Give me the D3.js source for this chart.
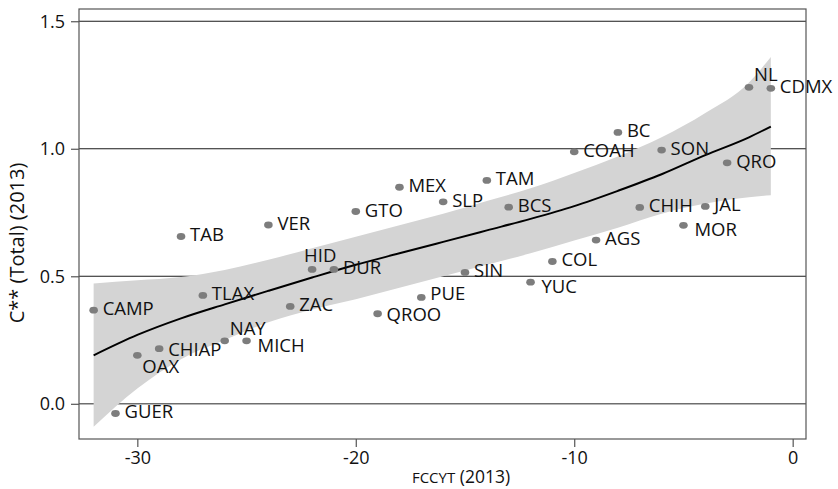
<!DOCTYPE html>
<html>
<head>
<meta charset="utf-8">
<script src="https://cdn.jsdelivr.net/npm/d3@7"></script>
<style>
  html, body { margin: 0; padding: 0; background: #fff; }
  svg { display: block; }
  text { font-family: "Open Sans", "Noto Sans", sans-serif; fill: #111; }
</style>
</head>
<body>
<svg id="chart" width="838" height="489"></svg>
<script>
// ---- data ----
const states = ["AGS","BC","BCS","CAMP","COAH","COL","CHIAP","CHIH","CDMX","DUR","GTO","GUER","HID","JAL","MEX","MICH","MOR","NAY","NL","OAX","PUE","QRO","QROO","SLP","SIN","SON","TAB","TAM","TLAX","VER","YUC","ZAC"];
const fccyt = [-9,-8,-13,-32,-10,-11,-29,-7,-1,-21,-20,-31,-22,-4,-18,-25,-5,-26,-2,-30,-17,-3,-19,-16,-15,-6,-28,-14,-27,-24,-12,-23];
const cstar = [0.642,1.064,0.771,0.367,0.988,0.558,0.216,0.770,1.237,0.527,0.754,-0.038,0.527,0.774,0.849,0.247,0.700,0.247,1.241,0.190,0.417,0.945,0.353,0.792,0.515,0.995,0.656,0.876,0.425,0.701,0.477,0.382];

// fitted curve and confidence band
const fitX  = [-32,-30,-28,-26,-24,-22,-20,-18,-16,-14,-12,-10,-8,-6,-4,-2,-1];
const fitY  = [0.19,0.27,0.335,0.39,0.443,0.495,0.545,0.59,0.635,0.68,0.725,0.775,0.835,0.90,0.975,1.045,1.087];
const fitHi = [0.472,0.484,0.497,0.525,0.565,0.61,0.655,0.70,0.745,0.795,0.845,0.905,0.97,1.045,1.14,1.26,1.36];
const fitLo = [-0.09,0.06,0.175,0.25,0.32,0.37,0.41,0.455,0.50,0.545,0.59,0.64,0.69,0.745,0.785,0.81,0.818];

const xTicks = [-30,-20,-10,0];
const yTicks = [0.0,0.5,1.0,1.5];
const xTitleName = "FCCyT";
const xTitleYear = " (2013)";
const yTitle = "C** (Total) (2013)";

// label positions (default "r" = right of the marker)
const labelPos = {NL:"ur", NAY:"ur", HID:"u", OAX:"dr", YUC:"lr", MICH:"lr", MOR:"lr", CHIAP:"rl", PUE:"ru", QROO:"rl"};

// ---- layout ----
const W = 838, H = 489;
const m = {left: 79, top: 9, right: 32, bottom: 50};
const iw = W - m.left - m.right, ih = H - m.top - m.bottom;

const x = d3.scaleLinear().domain([-32.67, 0.61]).range([0, iw]);
const y = d3.scaleLinear().domain([-0.138, 1.548]).range([ih, 0]);

const svg = d3.select("#chart");
const g = svg.append("g").attr("transform", `translate(${m.left},${m.top})`);

// gridlines
g.append("g").selectAll("line").data(yTicks).join("line")
  .attr("x1", 0).attr("x2", iw)
  .attr("y1", d => y(d)).attr("y2", d => y(d))
  .attr("stroke", d => d === 0 ? "#6e6e6e" : "#1a1a1a")
  .attr("stroke-width", d => d === 0 ? 1.6 : 1.1);

// band
const fit = fitX.map((v, i) => ({x: v, y: fitY[i], lo: fitLo[i], hi: fitHi[i]}));
g.append("path").datum(fit)
  .attr("fill", "#d4d4d4")
  .attr("d", d3.area().x(d => x(d.x)).y0(d => y(d.lo)).y1(d => y(d.hi)).curve(d3.curveMonotoneX));

// fit line
g.append("path").datum(fit)
  .attr("fill", "none").attr("stroke", "#000").attr("stroke-width", 2)
  .attr("d", d3.line().x(d => x(d.x)).y(d => y(d.y)).curve(d3.curveMonotoneX));

// points
const pts = states.map((s, i) => ({s, x: fccyt[i], y: cstar[i]}));
g.append("g").selectAll("ellipse").data(pts).join("ellipse")
  .attr("cx", d => x(d.x)).attr("cy", d => y(d.y))
  .attr("rx", 4.3).attr("ry", 3.4)
  .attr("fill", "#7d7d7d");

// labels
const off = {r:[9,5], rl:[9,7], ru:[9,3], ur:[5,-6], u:[-8,-7], dr:[5,18], lr:[11,11]};
g.append("g").selectAll("text").data(pts).join("text")
  .attr("x", d => x(d.x) + off[labelPos[d.s] || "r"][0])
  .attr("y", d => y(d.y) + off[labelPos[d.s] || "r"][1])
  .attr("font-size", 18.5)
  .text(d => d.s);

// frame
g.append("rect").attr("x", 0).attr("y", 0).attr("width", iw).attr("height", ih)
  .attr("fill", "none").attr("stroke", "#555").attr("stroke-width", 1.2);

// axes
const xa = g.append("g").attr("transform", `translate(0,${ih})`)
  .call(d3.axisBottom(x).tickValues(xTicks).tickSize(8).tickPadding(4).tickFormat(d => String(d)));
const ya = g.append("g")
  .call(d3.axisLeft(y).tickValues(yTicks).tickSize(8).tickPadding(6).tickFormat(d3.format(".1f")));
[xa, ya].forEach(a => {
  a.select(".domain").remove();
  a.selectAll("line").attr("stroke", "#555").attr("stroke-width", 1.2);
  a.selectAll("text").attr("font-size", 18).attr("font-family", "'Open Sans', sans-serif").attr("fill", "#111");
});

// titles
const xt = svg.append("text").attr("x", 461).attr("y", 483).attr("text-anchor", "middle")
  .attr("font-size", 17.5);
xt.append("tspan").attr("font-size", 15).style("text-transform", "uppercase").text(xTitleName);
xt.append("tspan").text(xTitleYear);
svg.append("text").attr("transform", `translate(24,${243}) rotate(-90)`).attr("text-anchor", "middle")
  .attr("font-size", 20).text(yTitle);
</script>
</body>
</html>
